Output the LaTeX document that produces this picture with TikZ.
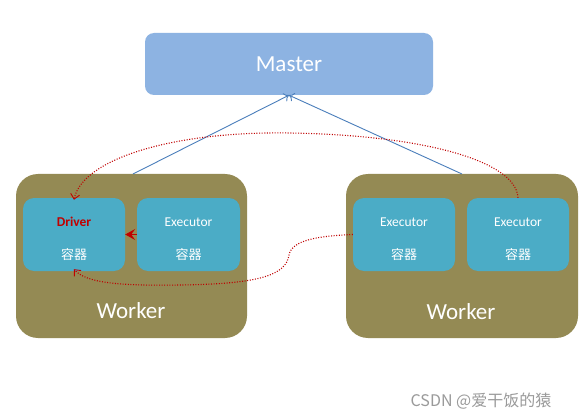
\documentclass[tikz,border=0pt]{standalone}
\usepackage{fontspec}
\setmainfont{Carlito}
\newfontfamily\cjk{Noto Sans CJK SC}
\usetikzlibrary{arrows.meta}
\definecolor{masterc}{HTML}{8DB3E2}
\definecolor{workerc}{HTML}{948A54}
\definecolor{contc}{HTML}{4BACC6}
\definecolor{bluel}{HTML}{4A7EBB}
\definecolor{redd}{HTML}{C00000}
\definecolor{wmark}{HTML}{9A9A9A}
\begin{document}
\begin{tikzpicture}[x=1pt,y=-1pt,
  masterbox/.style={fill=masterc,draw=none,rounded corners=9pt,minimum width=288pt,minimum height=62pt,inner sep=0pt,text=white,font=\fontsize{23}{26}\selectfont},
  workerbox/.style={fill=workerc,draw=none,rounded corners=22pt,minimum height=164pt,inner sep=0pt},
  contbox/.style={fill=contc,draw=none,rounded corners=11pt,minimum width=102pt,minimum height=73pt,inner sep=0pt},
  worklabel/.style={text=white,font=\fontsize{23}{26}\selectfont,inner sep=0pt},
  exlabel/.style={text=white,font=\fontsize{13.5}{16}\selectfont,inner sep=0pt},
  drvlabel/.style={text=redd,font=\fontsize{13.5}{16}\selectfont\bfseries,inner sep=0pt},
  cnlabel/.style={text=white,font=\cjk\fontsize{13}{16}\selectfont,inner sep=0pt},
  bluearrow/.style={draw=bluel,line width=0.9pt,-{To[length=5pt,width=9pt]}},
  reddot/.style={draw=redd,line width=1.1pt,dash pattern=on 1pt off 1.6pt,-{Straight Barb[length=5pt,width=9pt,line width=0.9pt]}},
  redhead/.style={draw=redd,line width=1.2pt,-{Stealth[length=10pt,width=11pt,inset=4pt]}}
]
\useasboundingbox (0,0) rectangle (582,420);
\fill[white] (0,0) rectangle (582,420);

\node[masterbox] (m) at (289,64) {Master};

\node[workerbox,minimum width=231pt] (lw) at (131.5,256) {};
\node[workerbox,minimum width=232pt] (rw) at (462,256) {};

\node[contbox] (drv) at (74,234.5) {};
\node[contbox,minimum width=103pt] (exl) at (188.5,234.5) {};
\node[contbox] (er1) at (404,234.5) {};
\node[contbox] (er2) at (518,234.5) {};

\node[drvlabel] (t1) at (74,222) {Driver};
\node[cnlabel] (c1) at (74,255) {容器};
\node[exlabel] (t2) at (188.5,222) {Executor};
\node[cnlabel] (c2) at (188.5,255) {容器};
\node[exlabel] (t3) at (404,222) {Executor};
\node[cnlabel] (c3) at (404,255) {容器};
\node[exlabel] (t4) at (518,222) {Executor};
\node[cnlabel] (c4) at (518,255) {容器};

\node[worklabel] (wl1) at (131,311) {Worker};
\node[worklabel] (wl2) at (461,312) {Worker};

\coordinate (lwt) at (133,174);
\coordinate (rwt) at (462,174);
\draw[bluearrow] (lwt) -- (m.south);
\draw[bluearrow] (rwt) -- (m.south);

\draw[reddot] (er2.north) .. controls (516,160) and (420,135) .. (290,133)
  .. controls (170,131) and (82,160) .. ([yshift=-2pt]drv.north);
\draw[reddot] (er1.west) .. controls (318,236) and (292,240) .. (289,255)
  .. controls (286,275) and (260,284) .. (180,285)
  .. controls (120,286) and (86,283) .. ([yshift=2pt]drv.south);

\draw[redhead] (exl.west) -- (drv.east);

\node[font=\cjk\fontsize{16}{18}\selectfont,text=wmark,inner sep=0pt] (wm) at (481,401) {CSDN @爱干饭的猿};
\end{tikzpicture}
\end{document}
